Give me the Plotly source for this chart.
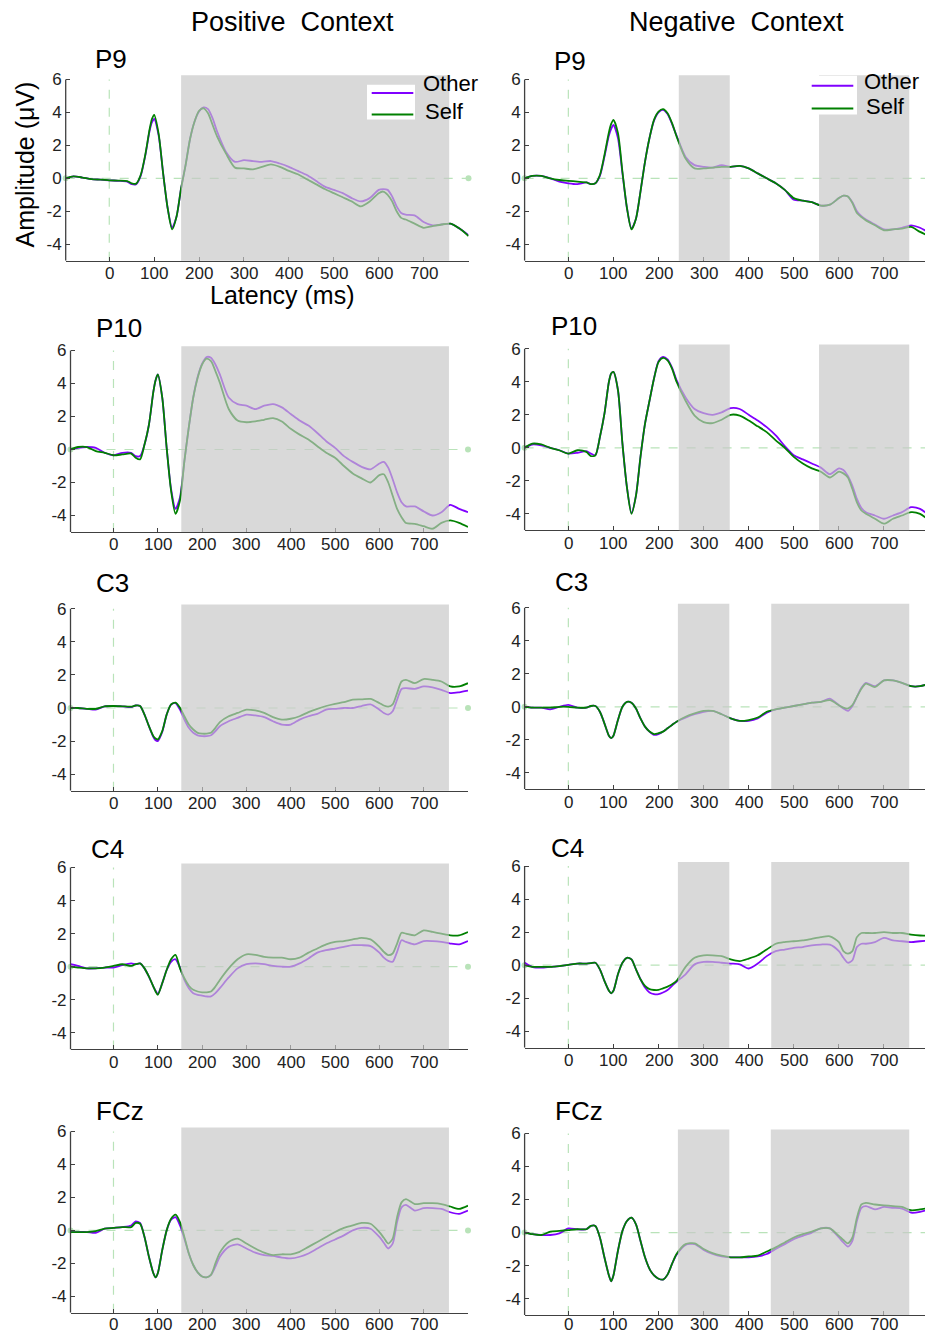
import plotly.graph_objects as go

# ---------------- data ----------------
T = [-97, -80, -60, -40, -20, 0, 20, 40, 50, 60,
     70, 80, 90, 95, 100, 110, 120, 130, 140, 150,
     160, 170, 180, 190, 200, 210, 220, 230, 240, 260,
     280, 300, 320, 340, 360, 380, 400, 420, 440, 460,
     480, 500, 520, 540, 560, 580, 600, 610, 620, 630,
     640, 650, 660, 680, 700, 720, 740, 760, 780, 800]

X_TICKS = [0, 100, 200, 300, 400, 500, 600, 700]
X_TICK_TEXT = ["0", "100", "200", "300", "400", "500", "600", "700"]
Y_TICKS = [-4, -2, 0, 2, 4, 6]
Y_TICK_TEXT = ["-4", "-2", "0", "2", "4", "6"]
COLUMN_TITLES = ["Positive  Context", "Negative  Context"]
ELECTRODES = ["P9", "P10", "C3", "C4", "FCz"]
SERIES_NAMES = ["Other", "Self"]

P9_POS_SELF = [0.0, 0.12, 0.05, -0.05, -0.08, -0.12, -0.14, -0.17, -0.3, -0.32,
               0.2, 1.4, 3.0, 3.6, 3.85, 2.7, 0.3, -1.8, -3.1, -2.3,
               -0.6, 0.8, 2.4, 3.45, 4.1, 4.25, 3.95, 3.25, 2.55, 1.5,
               0.65, 0.6, 0.55, 0.7, 0.85, 0.7, 0.45, 0.25, -0.05, -0.35,
               -0.65, -0.9, -1.15, -1.4, -1.7, -1.4, -0.9, -0.8, -1.0, -1.4,
               -2.0, -2.4, -2.5, -2.75, -3.0, -2.9, -2.8, -2.75, -3.05, -3.5]
P9_POS_OTHER = [0.0, 0.12, 0.05, -0.05, -0.08, -0.12, -0.15, -0.2, -0.35, -0.35,
                0.15, 1.35, 2.9, 3.4, 3.6, 2.6, 0.3, -1.8, -3.0, -2.3,
                -0.6, 0.8, 2.4, 3.45, 4.05, 4.3, 4.2, 3.65, 2.85, 1.6,
                1.0, 1.1, 1.05, 1.0, 1.05, 0.9, 0.7, 0.45, 0.2, -0.15,
                -0.5, -0.7, -0.9, -1.2, -1.4, -1.2, -0.7, -0.65, -0.7, -1.1,
                -1.7, -2.1, -2.2, -2.25, -2.65, -2.85, -2.8, -2.75, -3.05, -3.45]
P9_NEG_SELF = [0.0, 0.15, 0.15, 0.0, -0.1, -0.15, -0.2, -0.25, -0.35, -0.3,
               0.2, 1.4, 2.8, 3.3, 3.55, 2.75, 0.4, -1.8, -3.1, -2.45,
               -0.8, 1.0, 2.45, 3.55, 4.05, 4.2, 3.95, 3.35, 2.55, 1.2,
               0.6, 0.6, 0.65, 0.7, 0.7, 0.75, 0.6, 0.3, 0.0, -0.3,
               -0.7, -1.2, -1.35, -1.45, -1.65, -1.6, -1.2, -1.05, -1.1, -1.5,
               -2.1, -2.35, -2.55, -2.85, -3.15, -3.1, -3.05, -2.95, -3.25, -3.5]
P9_NEG_OTHER = [0.0, 0.15, 0.15, 0.0, -0.2, -0.3, -0.35, -0.25, -0.35, -0.3,
                0.15, 1.3, 2.6, 3.0, 3.25, 2.45, 0.3, -1.8, -3.05, -2.45,
                -0.8, 1.0, 2.45, 3.5, 4.0, 4.15, 3.9, 3.3, 2.6, 1.3,
                0.8, 0.7, 0.65, 0.8, 0.7, 0.75, 0.6, 0.3, 0.0, -0.3,
                -0.7, -1.3, -1.35, -1.45, -1.65, -1.6, -1.2, -1.05, -1.1, -1.45,
                -2.0, -2.3, -2.5, -2.8, -3.1, -3.1, -3.0, -2.85, -3.0, -3.3]

P10_POS_SELF = [0.0, 0.15, 0.15, -0.1, -0.2, -0.35, -0.3, -0.25, -0.5, -0.6,
                0.3, 1.5, 3.5, 4.2, 4.55, 3.15, 0.1, -2.5, -3.9, -3.1,
                -0.7, 1.35, 3.15, 4.35, 5.15, 5.5, 5.35, 4.75, 4.05, 2.45,
                1.75, 1.65, 1.7, 1.8, 1.9, 1.7, 1.25, 0.9, 0.6, 0.2,
                -0.2, -0.5, -1.0, -1.45, -1.75, -2.0, -1.55, -1.5, -2.0, -2.8,
                -3.6, -4.1, -4.45, -4.5, -4.65, -4.8, -4.45, -4.3, -4.45, -4.7]
P10_POS_OTHER = [0.0, 0.1, 0.15, 0.1, -0.2, -0.35, -0.2, -0.2, -0.4, -0.4,
                 0.3, 1.5, 3.5, 4.2, 4.55, 3.15, 0.1, -2.4, -3.6, -2.9,
                 -0.7, 1.35, 3.15, 4.4, 5.2, 5.6, 5.55, 5.15, 4.55, 3.15,
                 2.75, 2.65, 2.45, 2.65, 2.75, 2.55, 2.15, 1.75, 1.45, 1.0,
                 0.5, 0.1, -0.4, -0.75, -1.05, -1.2, -0.85, -0.75, -1.1, -1.8,
                 -2.6, -3.2, -3.45, -3.45, -3.75, -4.0, -3.8, -3.35, -3.6, -3.8]
P10_NEG_SELF = [0.0, 0.25, 0.2, 0.0, -0.15, -0.35, -0.15, -0.25, -0.5, -0.45,
                0.65, 2.05, 4.0, 4.5, 4.6, 3.5, 0.25, -2.4, -4.0, -2.9,
                -0.55, 1.45, 2.85, 4.2, 5.2, 5.45, 5.3, 4.8, 4.0, 2.85,
                1.95, 1.55, 1.5, 1.7, 2.0, 1.95, 1.65, 1.3, 0.95, 0.45,
                0.0, -0.55, -0.95, -1.25, -1.45, -1.8, -1.45, -1.55, -1.8, -2.5,
                -3.3, -3.8, -4.0, -4.3, -4.6, -4.3, -4.1, -3.9, -4.0, -4.4]
P10_NEG_OTHER = [0.0, 0.2, 0.15, 0.0, -0.15, -0.35, -0.3, -0.2, -0.35, -0.45,
                 0.65, 2.05, 4.0, 4.5, 4.6, 3.5, 0.25, -2.4, -3.95, -2.9,
                 -0.55, 1.45, 2.85, 4.2, 5.25, 5.5, 5.35, 4.85, 4.1, 3.05,
                 2.35, 2.1, 2.0, 2.15, 2.4, 2.35, 2.0, 1.65, 1.25, 0.75,
                 0.1, -0.45, -0.7, -0.95, -1.2, -1.6, -1.25, -1.35, -1.7, -2.3,
                 -3.1, -3.65, -3.9, -4.1, -4.3, -4.1, -3.9, -3.6, -3.7, -4.1]

C3_POS_SELF = [0.0, 0.0, -0.05, -0.05, 0.1, 0.12, 0.1, 0.08, 0.15, 0.12,
               -0.4, -1.1, -1.7, -1.85, -1.9, -1.4, -0.4, 0.22, 0.32, 0.02,
               -0.5, -1.0, -1.3, -1.5, -1.55, -1.55, -1.5, -1.2, -0.85, -0.5,
               -0.3, -0.1, -0.15, -0.3, -0.55, -0.7, -0.65, -0.5, -0.25, -0.05,
               0.12, 0.25, 0.35, 0.5, 0.52, 0.55, 0.3, 0.15, 0.08, 0.22,
               0.9, 1.6, 1.7, 1.5, 1.75, 1.7, 1.6, 1.3, 1.3, 1.5]
C3_POS_OTHER = [0.0, 0.0, -0.05, -0.1, 0.1, 0.12, 0.1, 0.05, 0.15, 0.12,
                -0.4, -1.1, -1.75, -1.95, -2.0, -1.45, -0.4, 0.2, 0.3, -0.1,
                -0.7, -1.2, -1.5, -1.65, -1.7, -1.7, -1.65, -1.4, -1.1, -0.8,
                -0.6, -0.4, -0.45, -0.55, -0.8, -1.0, -1.0, -0.7, -0.5, -0.35,
                -0.1, -0.05, 0.0, 0.0, 0.12, 0.22, -0.1, -0.3, -0.4, -0.2,
                0.5, 1.15, 1.2, 1.15, 1.3, 1.25, 1.1, 0.9, 0.95, 1.05]
C3_NEG_SELF = [0.0, -0.05, -0.05, -0.05, 0.0, 0.0, -0.05, -0.05, 0.05, 0.05,
               -0.3, -1.0, -1.75, -1.9, -1.75, -0.8, 0.0, 0.3, 0.25, -0.1,
               -0.7, -1.2, -1.5, -1.65, -1.6, -1.5, -1.3, -1.1, -0.9, -0.6,
               -0.4, -0.25, -0.25, -0.45, -0.7, -0.85, -0.8, -0.65, -0.3, -0.15,
               -0.05, 0.05, 0.15, 0.25, 0.3, 0.4, 0.1, -0.05, -0.1, 0.1,
               0.6, 1.1, 1.4, 1.2, 1.6, 1.6, 1.45, 1.25, 1.25, 1.4]
C3_NEG_OTHER = [0.0, -0.05, -0.05, -0.15, 0.0, 0.12, -0.05, -0.05, 0.05, 0.05,
                -0.3, -1.0, -1.75, -1.9, -1.75, -0.8, 0.0, 0.3, 0.25, -0.1,
                -0.7, -1.2, -1.5, -1.7, -1.65, -1.5, -1.3, -1.1, -0.9, -0.65,
                -0.45, -0.3, -0.25, -0.45, -0.7, -0.85, -0.85, -0.7, -0.35, -0.15,
                -0.05, 0.05, 0.15, 0.25, 0.3, 0.5, 0.1, -0.1, -0.25, 0.05,
                0.6, 1.15, 1.45, 1.25, 1.6, 1.6, 1.45, 1.25, 1.25, 1.4]

C4_POS_SELF = [0.0, -0.05, -0.1, -0.1, -0.05, 0.05, 0.15, 0.05, 0.15, 0.2,
               -0.1, -0.6, -1.2, -1.5, -1.7, -1.0, -0.2, 0.45, 0.72, -0.1,
               -0.7, -1.15, -1.4, -1.5, -1.55, -1.55, -1.5, -1.2, -0.8, -0.1,
               0.45, 0.75, 0.72, 0.6, 0.55, 0.55, 0.45, 0.55, 0.85, 1.1,
               1.35, 1.5, 1.55, 1.65, 1.75, 1.65, 1.2, 0.9, 0.7, 0.8,
               1.4, 2.05, 2.0, 1.9, 2.2, 2.1, 2.0, 1.9, 1.9, 2.1]
C4_POS_OTHER = [0.15, 0.05, -0.1, -0.1, -0.05, -0.05, 0.1, 0.2, 0.15, 0.2,
                -0.1, -0.6, -1.2, -1.45, -1.65, -1.0, -0.2, 0.3, 0.45, -0.05,
                -0.8, -1.3, -1.6, -1.7, -1.75, -1.8, -1.8, -1.6, -1.3, -0.65,
                -0.1, 0.15, 0.2, 0.15, 0.05, 0.0, 0.0, 0.2, 0.5, 0.85,
                1.0, 1.1, 1.2, 1.3, 1.3, 1.25, 0.85, 0.55, 0.35, 0.3,
                0.9, 1.6, 1.5, 1.35, 1.55, 1.55, 1.5, 1.4, 1.35, 1.55]
C4_NEG_SELF = [0.0, -0.1, -0.1, -0.1, -0.05, 0.02, 0.1, 0.1, 0.12, 0.15,
               -0.25, -0.95, -1.55, -1.7, -1.55, -0.55, 0.15, 0.45, 0.35, -0.25,
               -0.85, -1.25, -1.45, -1.5, -1.5, -1.4, -1.3, -1.15, -0.95, -0.1,
               0.45, 0.6, 0.6, 0.55, 0.35, 0.25, 0.4, 0.6, 0.95, 1.3,
               1.4, 1.45, 1.5, 1.6, 1.7, 1.75, 1.4, 0.85, 0.7, 0.85,
               1.7, 1.95, 1.95, 1.95, 2.0, 1.95, 1.95, 1.85, 1.8, 1.8]
C4_NEG_OTHER = [0.15, -0.1, -0.15, -0.1, -0.05, 0.02, 0.1, 0.1, 0.12, 0.15,
                -0.25, -0.95, -1.55, -1.7, -1.55, -0.55, 0.15, 0.45, 0.35, -0.25,
                -0.85, -1.35, -1.65, -1.75, -1.75, -1.65, -1.5, -1.25, -1.0, -0.55,
                0.05, 0.2, 0.2, 0.15, 0.1, 0.05, -0.2, 0.1, 0.55, 0.85,
                0.95, 1.05, 1.1, 1.2, 1.25, 1.25, 0.85, 0.45, 0.15, 0.3,
                1.1, 1.3, 1.3, 1.4, 1.65, 1.5, 1.45, 1.4, 1.45, 1.5]

FCZ_POS_SELF = [-0.1, -0.1, -0.1, -0.05, 0.1, 0.15, 0.2, 0.2, 0.45, 0.4,
                -0.4, -1.6, -2.6, -2.85, -2.6, -1.2, 0.0, 0.7, 0.95, 0.5,
                -0.4, -1.4, -2.1, -2.55, -2.8, -2.85, -2.7, -2.0, -1.35, -0.7,
                -0.5, -0.8, -1.1, -1.35, -1.5, -1.45, -1.45, -1.3, -1.0, -0.7,
                -0.4, -0.1, 0.15, 0.3, 0.45, 0.4, -0.1, -0.45, -0.8, -0.5,
                0.8, 1.7, 1.9, 1.6, 1.65, 1.65, 1.6, 1.45, 1.3, 1.5]
FCZ_POS_OTHER = [-0.1, -0.1, -0.1, -0.15, 0.1, 0.15, 0.2, 0.3, 0.55, 0.45,
                 -0.4, -1.6, -2.6, -2.85, -2.6, -1.2, 0.0, 0.65, 0.8, 0.3,
                 -0.5, -1.4, -2.1, -2.55, -2.8, -2.85, -2.7, -2.2, -1.6, -1.0,
                 -0.85, -1.1, -1.35, -1.5, -1.55, -1.65, -1.7, -1.6, -1.4, -1.1,
                 -0.8, -0.55, -0.3, 0.0, 0.15, 0.1, -0.4, -0.75, -1.1, -0.8,
                 0.5, 1.4, 1.55, 1.2, 1.35, 1.35, 1.3, 1.1, 1.0, 1.2]
FCZ_NEG_SELF = [0.0, -0.1, -0.15, 0.05, 0.1, 0.15, 0.2, 0.2, 0.4, 0.4,
                -0.3, -1.5, -2.6, -2.95, -2.6, -1.1, 0.1, 0.7, 0.9, 0.5,
                -0.5, -1.5, -2.2, -2.6, -2.8, -2.85, -2.55, -1.9, -1.3, -0.7,
                -0.65, -1.0, -1.25, -1.4, -1.5, -1.5, -1.45, -1.4, -1.15, -0.9,
                -0.6, -0.3, -0.1, 0.05, 0.25, 0.25, -0.2, -0.45, -0.65, -0.3,
                0.9, 1.7, 1.8, 1.7, 1.65, 1.6, 1.55, 1.35, 1.4, 1.5]
FCZ_NEG_OTHER = [0.0, -0.1, -0.15, -0.15, -0.05, 0.25, 0.2, 0.2, 0.4, 0.4,
                 -0.3, -1.5, -2.6, -2.95, -2.6, -1.1, 0.1, 0.7, 0.9, 0.5,
                 -0.5, -1.5, -2.2, -2.6, -2.8, -2.85, -2.55, -1.9, -1.35, -0.75,
                 -0.7, -1.05, -1.3, -1.45, -1.5, -1.5, -1.5, -1.45, -1.3, -1.0,
                 -0.7, -0.4, -0.2, 0.0, 0.25, 0.25, -0.3, -0.6, -0.85, -0.5,
                 0.7, 1.5, 1.6, 1.4, 1.55, 1.5, 1.45, 1.2, 1.25, 1.4]

# significant windows (ms)
SHADE_POS = [[(160, 757)], [(153, 757)], [(153, 757)], [(153, 757)], [(153, 757)]]
SHADE_NEG = [[(245, 358), (556, 756)], [(245, 358), (556, 756)],
             [(243, 357), (450, 756)], [(243, 357), (450, 756)],
             [(243, 357), (449, 756)]]

POS_OTHER = [P9_POS_OTHER, P10_POS_OTHER, C3_POS_OTHER, C4_POS_OTHER, FCZ_POS_OTHER]
POS_SELF = [P9_POS_SELF, P10_POS_SELF, C3_POS_SELF, C4_POS_SELF, FCZ_POS_SELF]
NEG_OTHER = [P9_NEG_OTHER, P10_NEG_OTHER, C3_NEG_OTHER, C4_NEG_OTHER, FCZ_NEG_OTHER]
NEG_SELF = [P9_NEG_SELF, P10_NEG_SELF, C3_NEG_SELF, C4_NEG_SELF, FCZ_NEG_SELF]

# ---------------- layout geometry (pixels) ----------------
W, H = 925, 1336
FONT = "Liberation Sans, Arial, sans-serif"
C_OTHER = "#8000ff"
C_SELF = "#008000"
C_ZERO = "#b9e3b9"
C_AXIS = "#404040"
C_TICK = "#222222"

LEFT_X = [(65.7, 468.5), (70.5, 468.0), (70.5, 468.0), (70.5, 468.0), (70.5, 468.0)]
RIGHT_X = [(524.6, 925.0)] * 5
LEFT_RANGE = [-97, 800]
RIGHT_RANGE = [-97, 791]
LEFT_Y = [(70.6, 256.7), (342.6, 529.0), (601.8, 788.7), (861.6, 1048.3), (1126.6, 1312.7)]
RIGHT_Y = [(70.6, 256.7), (340.9, 527.3), (600.9, 787.3), (860.2, 1046.7), (1128.6, 1315.0)]
Y_RANGE = [-5, 6.25]

LABEL_POS_L = [(93, 54), (94, 324), (94, 580), (89, 847), (94, 1110.5)]
LABEL_POS_R = [(552, 56), (549, 322), (553, 579.5), (549, 846), (553, 1110)]

fig = go.Figure()
layout = dict(width=W, height=H, margin=dict(l=0, r=0, t=0, b=0),
              paper_bgcolor="white", plot_bgcolor="rgba(0,0,0,0)",
              showlegend=False, font=dict(family=FONT, color=C_TICK))
shapes = []
annotations = []


def px_x(p):
    return p / W


def px_y(p):
    return 1 - p / H


panels = []
for r in range(5):
    panels.append(dict(xpx=LEFT_X[r], ypx=LEFT_Y[r], xr=LEFT_RANGE, other=POS_OTHER[r],
                       self=POS_SELF[r], shades=SHADE_POS[r], label=ELECTRODES[r],
                       lab=LABEL_POS_L[r]))
    panels.append(dict(xpx=RIGHT_X[r], ypx=RIGHT_Y[r], xr=RIGHT_RANGE, other=NEG_OTHER[r],
                       self=NEG_SELF[r], shades=SHADE_NEG[r], label=ELECTRODES[r],
                       lab=LABEL_POS_R[r]))

for i, p in enumerate(panels):
    n = i + 1
    xa = "x" if n == 1 else f"x{n}"
    ya = "y" if n == 1 else f"y{n}"
    xkey = "xaxis" if n == 1 else f"xaxis{n}"
    ykey = "yaxis" if n == 1 else f"yaxis{n}"
    layout[xkey] = dict(domain=[px_x(p["xpx"][0]), px_x(p["xpx"][1])], range=p["xr"],
                        anchor=ya, showgrid=False, zeroline=False, showline=True,
                        linecolor=C_AXIS, linewidth=1.3, ticks="inside", ticklen=4,
                        tickcolor=C_AXIS, tickvals=X_TICKS, showticklabels=False)
    layout[ykey] = dict(domain=[px_y(p["ypx"][1]), px_y(p["ypx"][0])], range=Y_RANGE,
                        anchor=xa, showgrid=False, zeroline=False, showline=False,
                        ticks="inside", ticklen=4, tickcolor=C_AXIS, tickvals=Y_TICKS,
                        ticktext=Y_TICK_TEXT, ticklabelstandoff=3,
                        tickfont=dict(size=17, family=FONT, color=C_TICK))
    # x tick labels placed just under the axis line (kept inside the page)
    ylab = min(p["ypx"][1] + 13.0, 1324.0)
    for v, s in zip(X_TICKS, X_TICK_TEXT):
        annotations.append(dict(text=s, x=v, xref=xa, y=px_y(ylab), yref="paper",
                                xanchor="center", yanchor="middle", showarrow=False,
                                font=dict(size=17, family=FONT, color=C_TICK)))
    # zero reference lines
    fig.add_trace(go.Scatter(x=[LEFT_RANGE[0], LEFT_RANGE[1]], y=[0, 0], xaxis=xa, yaxis=ya,
                             mode="lines+markers", cliponaxis=False,
                             line=dict(color=C_ZERO, width=1.2, dash="dash"),
                             marker=dict(color=C_ZERO, size=6), hoverinfo="skip"))
    fig.add_trace(go.Scatter(x=[0, 0], y=[-5, 6], xaxis=xa, yaxis=ya, mode="lines",
                             line=dict(color=C_ZERO, width=1.2, dash="dash"),
                             hoverinfo="skip"))
    # data
    fig.add_trace(go.Scatter(x=T, y=p["other"], xaxis=xa, yaxis=ya, mode="lines",
                             name=SERIES_NAMES[0],
                             line=dict(color=C_OTHER, width=1.8, shape="spline", smoothing=0.7)))
    fig.add_trace(go.Scatter(x=T, y=p["self"], xaxis=xa, yaxis=ya, mode="lines",
                             name=SERIES_NAMES[1],
                             line=dict(color=C_SELF, width=1.8, shape="spline", smoothing=0.7)))
    # y axis line from -5 to 6
    shapes.append(dict(type="line", xref=f"{xa} domain", yref=ya, x0=0, x1=0, y0=-5, y1=6,
                       line=dict(color=C_AXIS, width=1.3), layer="above"))
    # shaded windows (semi-transparent over the curves)
    for (a, b) in p["shades"]:
        shapes.append(dict(type="rect", xref=xa, yref=f"{ya} domain", x0=a, x1=b, y0=0, y1=1,
                           fillcolor="rgba(198,198,198,0.67)", line=dict(width=0),
                           layer="above"))
    annotations.append(dict(text=p["label"], x=px_x(p["lab"][0]), y=px_y(p["lab"][1]),
                            xref="paper", yref="paper", xanchor="left", yanchor="middle",
                            showarrow=False, font=dict(size=26, family=FONT, color="black")))

# legends (P9 panels)
LEG = [dict(box=(367, 415, 80, 115), lx=(371.7, 413.3), ly=(88.3, 110),
            tx=(421, 422.5), ty=(79, 107)),
       dict(box=(810, 857, 71, 110), lx=(811.7, 853.3), ly=(81, 104),
            tx=(862, 863.5), ty=(77, 101.5))]
for lg in LEG:
    x0, x1, y0, y1 = lg["box"]
    shapes.append(dict(type="rect", xref="paper", yref="paper", x0=px_x(x0), x1=px_x(x1),
                       y0=px_y(y1), y1=px_y(y0), fillcolor="white", line=dict(width=0),
                       layer="above"))
    for k, col in enumerate([C_OTHER, C_SELF]):
        shapes.append(dict(type="line", xref="paper", yref="paper",
                           x0=px_x(lg["lx"][0]), x1=px_x(lg["lx"][1]),
                           y0=px_y(lg["ly"][k]), y1=px_y(lg["ly"][k]),
                           line=dict(color=col, width=2), layer="above"))
        annotations.append(dict(text=SERIES_NAMES[k], x=px_x(lg["tx"][k]), y=px_y(lg["ty"][k]),
                                xref="paper", yref="paper", xanchor="left", yanchor="middle",
                                showarrow=False, font=dict(size=22, family=FONT, color="black")))

# column titles and axis titles
annotations.append(dict(text=COLUMN_TITLES[0], x=px_x(292), y=px_y(17), xref="paper", yref="paper",
                        xanchor="center", yanchor="middle", showarrow=False,
                        font=dict(size=27, family=FONT, color="black")))
annotations.append(dict(text=COLUMN_TITLES[1], x=px_x(736), y=px_y(17), xref="paper", yref="paper",
                        xanchor="center", yanchor="middle", showarrow=False,
                        font=dict(size=27, family=FONT, color="black")))
annotations.append(dict(text="Amplitude (μV)", x=px_x(25), y=px_y(160), xref="paper", yref="paper",
                        xanchor="center", yanchor="middle", textangle=-90, showarrow=False,
                        font=dict(size=25, family=FONT, color="black")))
annotations.append(dict(text="Latency (ms)", x=px_x(282), y=px_y(291), xref="paper", yref="paper",
                        xanchor="center", yanchor="middle", showarrow=False,
                        font=dict(size=25, family=FONT, color="black")))

layout["shapes"] = shapes
layout["annotations"] = annotations
fig.update_layout(**layout)
fig.write_html("out.html")
